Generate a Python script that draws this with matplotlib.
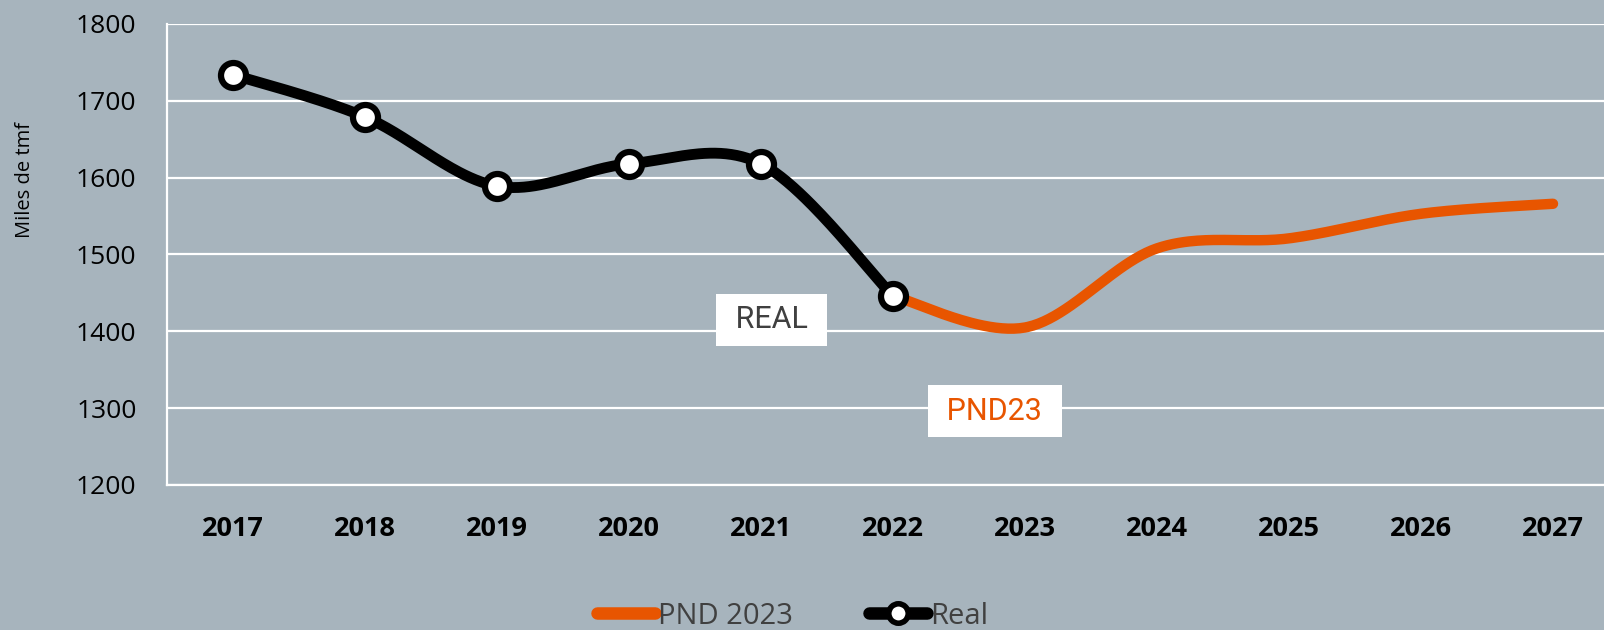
import numpy as np
import matplotlib.pyplot as plt
from matplotlib.lines import Line2D

years = [2017, 2018, 2019, 2020, 2021, 2022, 2023, 2024, 2025, 2026, 2027]
real_years = [2017, 2018, 2019, 2020, 2021, 2022]
real_vals = [1734, 1679, 1589, 1618, 1618, 1446]
pnd_years = [2022, 2023, 2024, 2025, 2026, 2027]
pnd_vals = [1446, 1405, 1508, 1521, 1553, 1566]

bg = "#A7B4BD"
orange = "#E85500"
plt.rcParams['font.family'] = ['Open Sans', 'DejaVu Sans']


def smooth(x, y, n=50):
    # Excel-like smoothed line: cubic bezier with catmull-rom control points
    p = np.column_stack([x, y]).astype(float)
    out = []
    for i in range(len(p) - 1):
        p0 = p[i - 1] if i > 0 else p[i]
        p3 = p[i + 2] if i + 2 < len(p) else p[i + 1]
        c1 = p[i] + (p[i + 1] - p0) / 6
        c2 = p[i + 1] - (p3 - p[i]) / 6
        t = np.linspace(0, 1, n)[:, None]
        seg = ((1 - t) ** 3 * p[i] + 3 * (1 - t) ** 2 * t * c1
               + 3 * (1 - t) * t ** 2 * c2 + t ** 3 * p[i + 1])
        out.append(seg if i == 0 else seg[1:])
    out = np.vstack(out)
    return out[:, 0], out[:, 1]


fig = plt.figure(figsize=(16.04, 6.3), dpi=100)
fig.patch.set_facecolor(bg)
ax = fig.add_axes([167 / 1604, 1 - 485 / 630, 1 - 167 / 1604, (485 - 24) / 630])
ax.set_facecolor(bg)

ax.set_ylim(1200, 1800)
ax.set_xlim(2016.5, 2016.5 + 1437 / 132)
ax.set_yticks(range(1200, 1801, 100))
ax.set_xticks(years)
ax.grid(axis='y', color='white', lw=1.6)
ax.set_axisbelow(True)
for s in ['top', 'right']:
    ax.spines[s].set_visible(False)
for s in ['left', 'bottom']:
    ax.spines[s].set_color('white')
    ax.spines[s].set_linewidth(1.6)
ax.tick_params(length=0)
ax.tick_params(axis='y', labelsize=19, pad=22)
ax.tick_params(axis='x', labelsize=19.5, pad=22)
for lb in ax.get_xticklabels():
    lb.set_fontweight('bold')

sx, sy = smooth(pnd_years, pnd_vals)
ax.plot(sx, sy, color=orange, lw=7.5, solid_capstyle='round', zorder=3)
sx, sy = smooth(real_years, real_vals)
ax.plot(sx, sy, color='black', lw=7.8, solid_capstyle='round', zorder=4)
ax.plot(real_years, real_vals, 'o', ms=18, mfc='white', mec='black', mew=4.5, zorder=5)

ax.text(2021.08, 1415, " REAL ", ha='center', va='center', fontsize=22,
        family=['Roboto', 'DejaVu Sans'], color='#404040',
        bbox=dict(boxstyle='square,pad=0.38', fc='white', ec='none'), zorder=6)
ax.text(2022.77, 1296, " PND23 ", ha='center', va='center', fontsize=22,
        family=['Roboto', 'DejaVu Sans'], color=orange,
        bbox=dict(boxstyle='square,pad=0.38', fc='white', ec='none'), zorder=6)

fig.text(25 / 1604, 1 - 180 / 630, "Miles de tmf", rotation=90, ha='center', va='center',
         fontsize=14.5, color='black')

handles = [Line2D([], [], color=orange, lw=9, solid_capstyle='round'),
           Line2D([], [], color='black', lw=9, solid_capstyle='round', marker='o',
                  ms=14, mfc='white', mec='black', mew=4)]
leg = fig.legend(handles, ["PND 2023", "Real"], loc='center', bbox_to_anchor=(0.494, 0.022),
                 ncol=2, frameon=False, fontsize=21, handlelength=2.0, handletextpad=0.1,
                 columnspacing=2.6, labelcolor='#404040')

fig.savefig("out.png", dpi=100, facecolor=bg)
